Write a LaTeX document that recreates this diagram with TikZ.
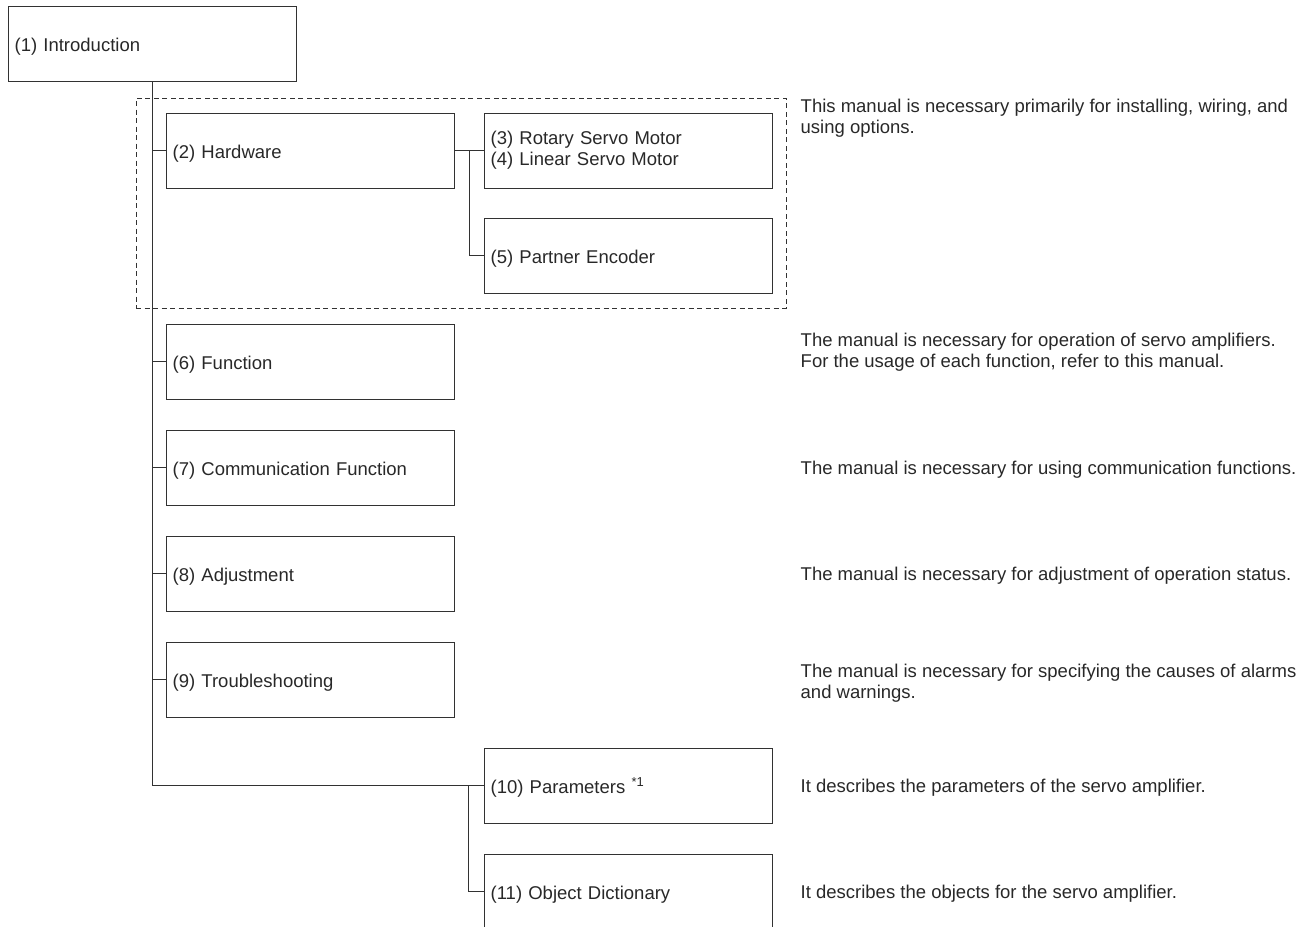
\documentclass[tikz,border=0pt]{standalone}
\usepackage{fontspec}
\setmainfont{Liberation Sans}
\definecolor{txtc}{RGB}{40,40,40}
\definecolor{linec}{RGB}{50,50,50}
\newcommand{\mytwolines}[2]{\vtop{\hbox{#1}\hbox{#2}}}
\tikzset{
  box/.style={draw=linec, line width=1.3pt, rectangle, anchor=north west,
    minimum width=288pt, minimum height=75pt, inner xsep=6.5pt, inner ysep=0pt,
    text width=275pt, align=left, text height=15.5pt, text depth=0.5pt},
  box2/.style={box, text height=, text depth=},
  note/.style={anchor=base west, inner sep=0pt, text=txtc},
  conn/.style={draw=linec, line width=1.3pt},
  group/.style={draw=linec, line width=1.1pt, dash pattern=on 5pt off 3.5pt}
}
\begin{document}
\begin{tikzpicture}[x=1pt, y=-1pt, font=\fontsize{18.5}{21}\selectfont, text=txtc]
\useasboundingbox (0,0) rectangle (1313,926);
\clip (0,0) rectangle (1313,926);
% group frame
\node[group, rectangle, anchor=north west, minimum width=650pt, minimum height=210pt, inner sep=0pt] (grp) at (135.5,97.5) {};
% boxes
\node[box] (b1) at (7.5,5.5) {(1) Introduction};
\node[box] (b2) at (165.5,112.5) {(2) Hardware};
\node[box2] (b3) at (483.5,112.5) {(3) Rotary Servo Motor\\(4) Linear Servo Motor};
\node[box] (b5) at (483.5,217.5) {(5) Partner Encoder};
\node[box] (b6) at (165.5,323.5) {(6) Function};
\node[box] (b7) at (165.5,429.5) {(7) Communication Function};
\node[box] (b8) at (165.5,535.5) {(8) Adjustment};
\node[box] (b9) at (165.5,641.5) {(9) Troubleshooting};
\node[box] (b10) at (483.5,747.5) {(10) Parameters \textsuperscript{*1}};
\node[box] (b11) at (483.5,853.5) {(11) Object Dictionary};
% connectors
\draw[conn] (b1.south) |- (b10.west);
\coordinate (j10) at ([xshift=-15pt]b10.west);
\draw[conn] (j10) |- (b11.west);
\foreach \b in {b2,b6,b7,b8,b9} {
  \draw[conn] (\b.west -| b1.south) -- (\b.west);
}
\draw[conn] (b2.east) -- (b3.west);
\coordinate (j3) at ([xshift=15pt]b2.east);
\draw[conn] (j3) |- (b5.west);
% notes
\node[note] (n2) at (800.5,112.5) {\mytwolines{This manual is necessary primarily for installing, wiring, and}{using options.}};
\node[note] (n6) at (800.5,346) {\mytwolines{The manual is necessary for operation of servo amplifiers.}{For the usage of each function, refer to this manual.}};
\node[note] (n7) at (800.5,474) {The manual is necessary for using communication functions.};
\node[note] (n8) at (800.5,580) {The manual is necessary for adjustment of operation status.};
\node[note] (n9) at (800.5,677) {\mytwolines{The manual is necessary for specifying the causes of alarms}{and warnings.}};
\node[note] (n10) at (800.5,792) {It describes the parameters of the servo amplifier.};
\node[note] (n11) at (800.5,898) {It describes the objects for the servo amplifier.};
\end{tikzpicture}
\end{document}
